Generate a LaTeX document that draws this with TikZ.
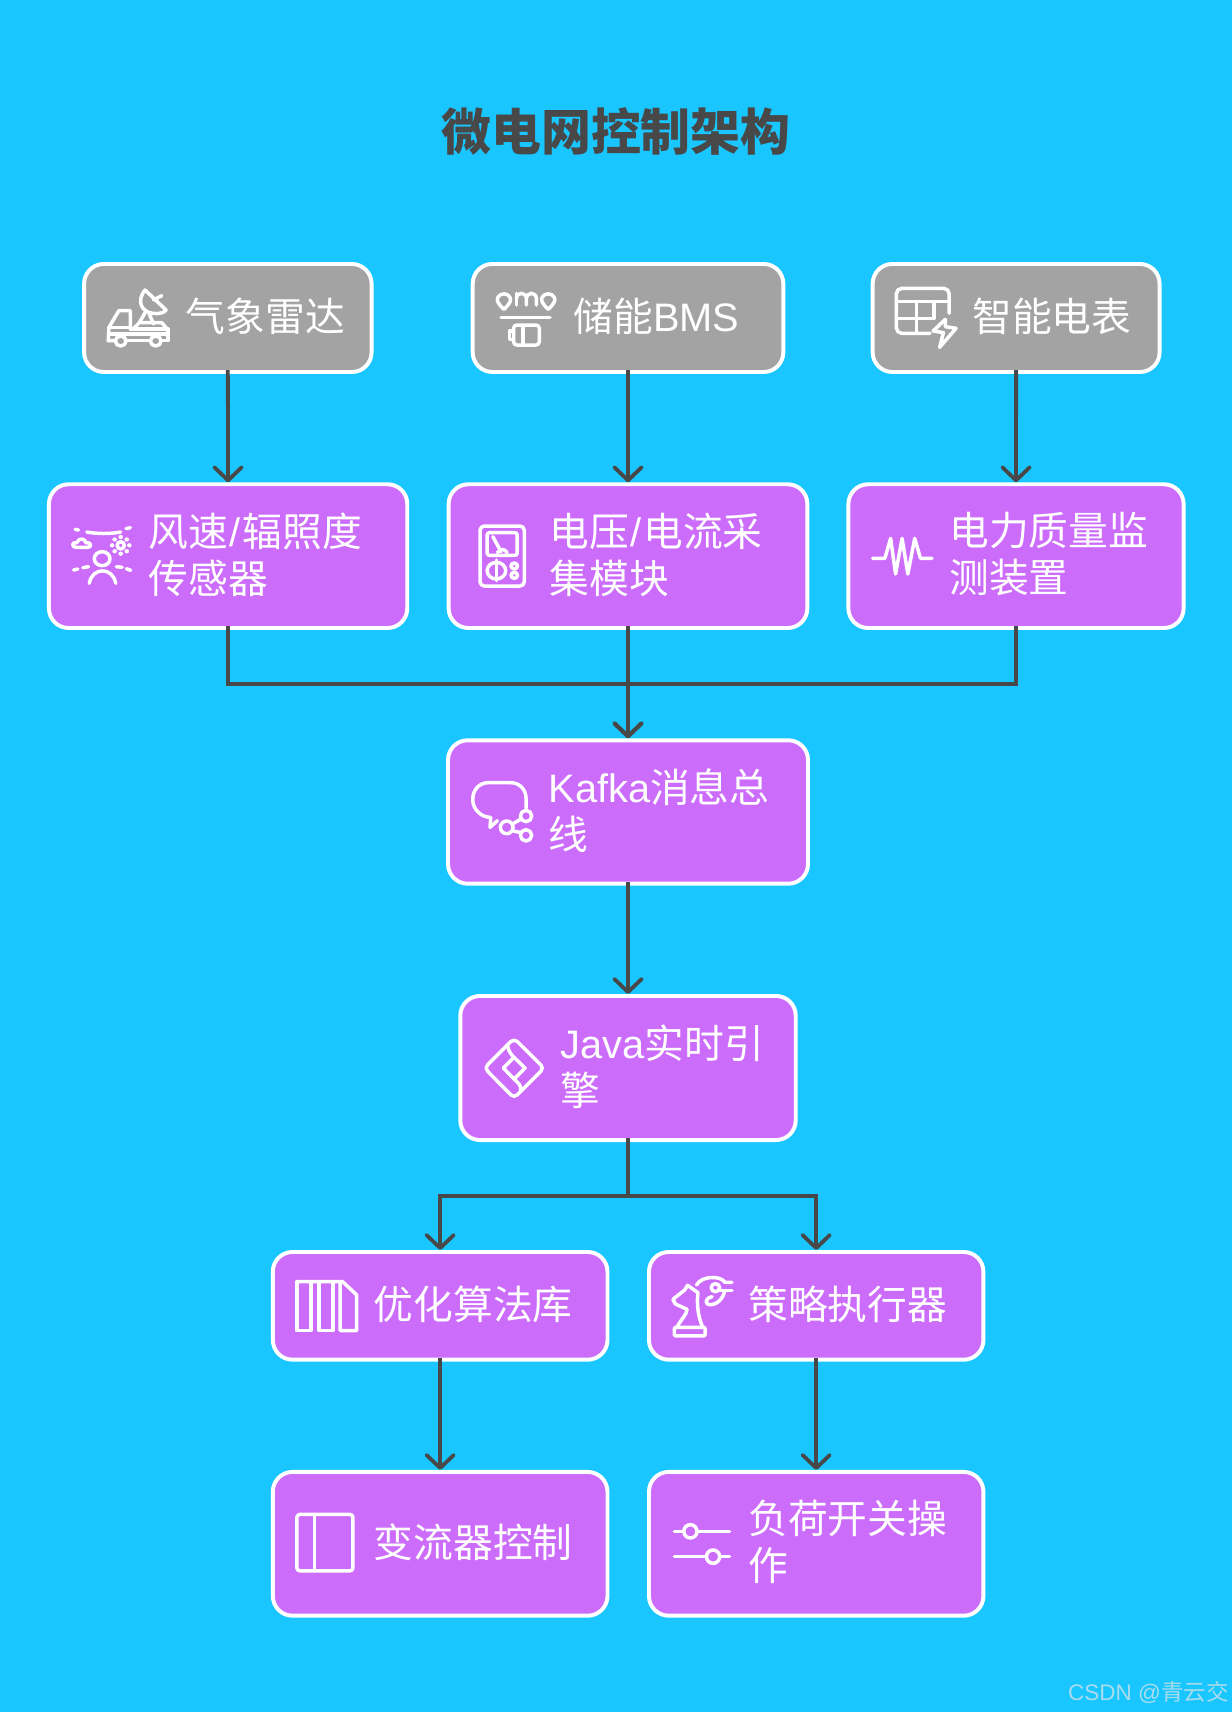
\documentclass[tikz,border=0pt]{standalone}
\usepackage{fontspec}
\setmainfont{Liberation Sans}
\newfontfamily\cjk{Noto Sans CJK SC}
\newfontfamily\lat{Liberation Sans}
\usetikzlibrary{arrows.meta}
\definecolor{bgc}{HTML}{1AC6FF}
\definecolor{purp}{HTML}{CC6CFB}
\definecolor{grayb}{HTML}{A3A3A3}
\definecolor{ink}{HTML}{484848}
\definecolor{wm}{HTML}{A8DCEC}
\newcommand{\bt}[2]{\hspace*{#1pt}\rlap{\raisebox{-1pt}[0pt][0pt]{\parbox[c]{300pt}{\raggedright\fontsize{36.4}{43}\selectfont\cjk #2}}}}
\newcommand{\slashk}{\kern1.5pt{\lat /}\kern1.5pt}
\tikzset{
  x=1pt,y=-1pt,
  boxg/.style={draw=white,line width=3.6pt,rounded corners=18pt,fill=grayb,text=white,inner sep=0pt,align=left},
  boxp/.style={boxg,fill=purp},
  conn/.style={draw=ink,line width=3.5pt,shorten <=-3.5pt,-{Straight Barb[round,length=12pt,width=25pt]}},
  ic/.style={draw=white,line width=3.2pt,line cap=round,line join=round},
  za/.style={x=.327pt,y=-.3052pt,xshift=54.94pt,yshift=-228.9pt},
  zb/.style={x=.3504pt,y=-.3052pt,xshift=567.7pt,yshift=-228.9pt},
  zc/.style={x=.3052pt,y=-.3052pt,xshift=402.9pt,yshift=-668.4pt},
  zd/.style={x=.4321pt,y=-.3052pt,xshift=238.05pt,yshift=-1135.3pt},
}
\begin{document}
\begin{tikzpicture}
\path[fill=bgc] (0,0) rectangle (1128,1567.5);
\useasboundingbox (0,0) rectangle (1128,1567.5);

\node[text=ink,font={\fontsize{45.7}{50}\selectfont\cjk\bfseries}] (title) at (564,120) {微电网控制架构};

% boxes
\node[boxg,minimum width=263.2pt,text width=263.2pt,minimum height=98.9pt] (a1) at (208.6,291.15) {\bt{93.2}{气象雷达}};
\node[boxg,minimum width=284.4pt,text width=284.4pt,minimum height=98.9pt] (a2) at (575,291.15) {\bt{92.4}{储能{\lat BMS}}};
\node[boxg,minimum width=262.7pt,text width=262.7pt,minimum height=98.9pt] (a3) at (930.35,291.15) {\bt{91.2}{智能电表}};

\node[boxp,minimum width=328.1pt,text width=328.1pt,minimum height=131.6pt] (b1) at (208.85,509.2) {\bt{91.4}{风速\slashk 辐照度\\传感器}};
\node[boxp,minimum width=328.4pt,text width=328.4pt,minimum height=131.6pt] (b2) at (575,509.2) {\bt{92.4}{电压\slashk 电流采\\集模块}};
\node[boxp,minimum width=306.9pt,text width=306.9pt,minimum height=131.6pt] (b3) at (930.25,509.2) {\bt{92.4}{电力质量监\\测装置}};

\node[boxp,minimum width=329.6pt,text width=329.6pt,minimum height=131.3pt] (c) at (575,743.45) {\bt{92}{{\lat Kafka}消息总\\线}};
\node[boxp,minimum width=307.1pt,text width=307.1pt,minimum height=131.9pt] (d) at (575,977.85) {\bt{91.8}{{\lat Java}实时引\\擎}};

\node[boxp,minimum width=306.4pt,text width=306.4pt,minimum height=98.6pt] (e1) at (403,1195.6) {\bt{92.4}{优化算法库}};
\node[boxp,minimum width=306.2pt,text width=306.2pt,minimum height=98.6pt] (e2) at (747.3,1195.6) {\bt{91}{策略执行器}};
\node[boxp,minimum width=306.4pt,text width=306.4pt,minimum height=131.6pt] (f1) at (403,1413.5) {\bt{92.4}{变流器控制}};
\node[boxp,minimum width=306.2pt,text width=306.2pt,minimum height=131.6pt] (f2) at (747.3,1413.5) {\bt{91}{负荷开关操\\作}};

\node[anchor=east,text=wm,inner sep=0pt,font={\fontsize{20.6}{24}\selectfont}] (mark) at (1125,1550) {CSDN @{\cjk 青云交}};

% connectors
\coordinate (m1) at (575,626.5);
\coordinate (m2) at (575,1095);
\draw[conn] (a1.south) -- (b1.north);
\draw[conn] (a2.south) -- (b2.north);
\draw[conn] (a3.south) -- (b3.north);
\draw[conn] (b1.south) |- (m1) -- (c.north);
\draw[conn] (b2.south) -- (c.north);
\draw[conn] (b3.south) |- (m1) -- (c.north);
\draw[conn] (c.south) -- (d.north);
\draw[conn] (d.south) -- (m2) -| (e1.north);
\draw[conn] (d.south) -- (m2) -| (e2.north);
\draw[conn] (e1.south) -- (f1.north);
\draw[conn] (e2.south) -- (f2.north);

% truck
\begin{scope}[za]
\draw[ic] (197,237) -- (197,182) -- (165,182) -- (137,232) -- (135,272) -- (155,272);
\draw[ic] (137,232) -- (197,232);
\draw[ic] (183,272) -- (254,272);
\draw[ic] (282,272) -- (303,272) -- (303,237) -- (197,237);
\draw[ic] (140,252) -- (300,252);
\draw[ic] (170,273) ellipse [x radius=15,y radius=15];
\draw[ic] (268,273) ellipse [x radius=15,y radius=15];
\draw[ic] (238,120) .. controls (215,150) and (225,185) .. (260,190) .. controls (275,192) and (290,190) .. (297,180) -- cycle;
\draw[ic] (262,150) -- (285,137);
\draw[ic] (240,185) -- (222,218);
\draw[ic] (250,192) -- (262,222);
\draw[ic] (205,237) -- (222,218) -- (285,218) -- (300,237);
\end{scope}

% BMS
\begin{scope}[za]
\draw[ic] (1243,178) .. controls (1225,160) and (1222,150) .. (1226,142) .. controls (1232,128) and (1254,128) .. (1260,142) .. controls (1264,150) and (1261,160) .. (1243,178) -- cycle;
\draw[ic] (1367,178) .. controls (1349,160) and (1346,150) .. (1350,142) .. controls (1356,128) and (1378,128) .. (1384,142) .. controls (1388,150) and (1385,160) .. (1367,178) -- cycle;
\draw[ic] (1278,165) -- (1278,130);
\draw[ic] (1278,145) .. controls (1280,125) and (1304,125) .. (1306,145) -- (1306,165);
\draw[ic] (1306,145) .. controls (1308,125) and (1332,125) .. (1334,145) -- (1334,165);
\draw[ic] (1235,202) -- (1372,202);
\draw[ic,rounded corners=3pt] (1270,225) rectangle (1342,285);
\draw[ic] (1270,243) -- (1258,243) -- (1258,268) -- (1270,268);
\draw[ic] (1297,227) -- (1297,283);
\end{scope}

% meter
\begin{scope}[zb]
\draw[ic,rounded corners=5pt] (810,250) -- (722,250) -- (722,115) -- (860,115) -- (860,190);
\draw[ic] (722,155) -- (860,155);
\draw[ic] (722,205) -- (815,205);
\draw[ic] (775,155) -- (775,250);
\draw[ic] (820,155) -- (820,205);
\draw[ic] (850,208) -- (818,243) -- (845,248) -- (835,292) -- (878,235) -- (850,230) -- cycle;
\end{scope}

% person and sun
\begin{scope}[za]
\draw[ic] (75,846) .. controls (105,852) and (140,852) .. (170,846);
\draw[ic] (42,838) -- (52,840);
\draw[ic] (185,836) -- (197,833);
\draw[ic] (48,892) .. controls (30,892) and (33,875) .. (47,878) .. controls (52,862) and (72,865) .. (72,878) .. controls (88,875) and (90,892) .. (78,892) -- cycle;
\draw[ic] (170,886) ellipse [x radius=10,y radius=11];
\foreach \a in {0,45,...,315}
  \fill[white] ({170+24*cos(\a)},{886+25*sin(\a)}) circle [radius=6.5];
\draw[ic] (118,926) ellipse [x radius=22,y radius=21];
\draw[ic] (82,1000) .. controls (90,950) and (148,950) .. (156,1000);
\draw[ic] (38,960) -- (50,957);
\draw[ic] (64,953) -- (80,950);
\draw[ic] (158,950) -- (174,952);
\draw[ic] (186,956) -- (198,961);
\end{scope}

% multimeter
\begin{scope}[za]
\draw[ic,rounded corners=4pt] (1176,828) rectangle (1300,1008);
\draw[ic,rounded corners=2pt] (1196,848) rectangle (1280,916);
\draw[ic] (1212,860) -- (1235,905);
\draw[ic] (1225,908) .. controls (1232,895) and (1245,895) .. (1252,908);
\draw[ic] (1222,962) ellipse [x radius=26,y radius=25];
\draw[ic] (1222,930) -- (1222,992);
\draw[ic] (1272,948) ellipse [x radius=9,y radius=9];
\draw[ic] (1272,976) ellipse [x radius=9,y radius=9];
\end{scope}

% waveform
\begin{scope}[zb]
\draw[ic] (660,925) -- (692,925) -- (707,865) -- (720,972) -- (737,865) -- (752,972) -- (770,865) -- (785,925) -- (815,925);
\end{scope}

% Kafka bubble
\begin{scope}[zc]
\draw[ic] (258,235) -- (258,205) .. controls (258,178) and (238,158) .. (212,158) -- (143,158) .. controls (118,158) and (98,180) .. (98,208) .. controls (98,240) and (125,262) .. (152,262) -- (150,292) -- (172,272);
\draw[ic] (200,292) ellipse [x radius=19,y radius=19];
\draw[ic] (258,258) ellipse [x radius=17,y radius=17];
\draw[ic] (258,316) ellipse [x radius=17,y radius=17];
\draw[ic] (217,282) -- (243,267);
\draw[ic] (217,302) -- (243,308);
\end{scope}

% Java diamond
\begin{scope}[zc]
\draw[ic,rounded corners=4pt] (222,925) -- (312,1014) -- (222,1104) -- (133,1014) -- cycle;
\draw[ic] (222,982) -- (255,1014) -- (222,1047) -- (190,1014) -- cycle;
\draw[ic] (202,945) .. controls (205,965) and (215,975) .. (222,982);
\draw[ic] (222,1047) .. controls (235,1060) and (245,1065) .. (242,1085);
\end{scope}

% library
\begin{scope}[zd]
\draw[ic] (78,125) -- (175,125) -- (205,165) -- (205,272) -- (170,272) -- (170,125);
\draw[ic] (78,125) rectangle (108,272);
\draw[ic] (125,125) rectangle (155,272);
\end{scope}

% knight and arm
\begin{scope}[zd]
\draw[ic,rounded corners=1pt] (878,262) -- (943,262) -- (943,288) -- (878,288) -- cycle;
\draw[ic] (884,262) .. controls (890,240) and (905,225) .. (905,208) -- (880,192) -- (875,178) -- (900,150) -- (906,136) -- (928,158) .. controls (925,190) and (928,230) .. (938,262);
\draw[ic] (925,135) .. controls (935,108) and (975,105) .. (985,127) -- (1000,127);
\draw[ic] (965,143) ellipse [x radius=9,y radius=12];
\draw[ic] (975,152) -- (1000,152);
\draw[ic] (985,152) .. controls (980,185) and (960,200) .. (948,192) .. controls (942,185) and (948,172) .. (958,170);
\end{scope}

% panel
\begin{scope}[zd]
\draw[ic,rounded corners=3pt] (78,823) rectangle (197,993);
\draw[ic] (115,823) -- (115,993);
\end{scope}

% sliders
\begin{scope}[zd]
\draw[ic] (878,874) -- (995,874);
\draw[ic] (878,950) -- (995,950);
\draw[ic,fill=purp] (912,874) ellipse [x radius=14,y radius=20];
\draw[ic,fill=purp] (960,950) ellipse [x radius=14,y radius=20];
\end{scope}
\end{tikzpicture}
\end{document}
